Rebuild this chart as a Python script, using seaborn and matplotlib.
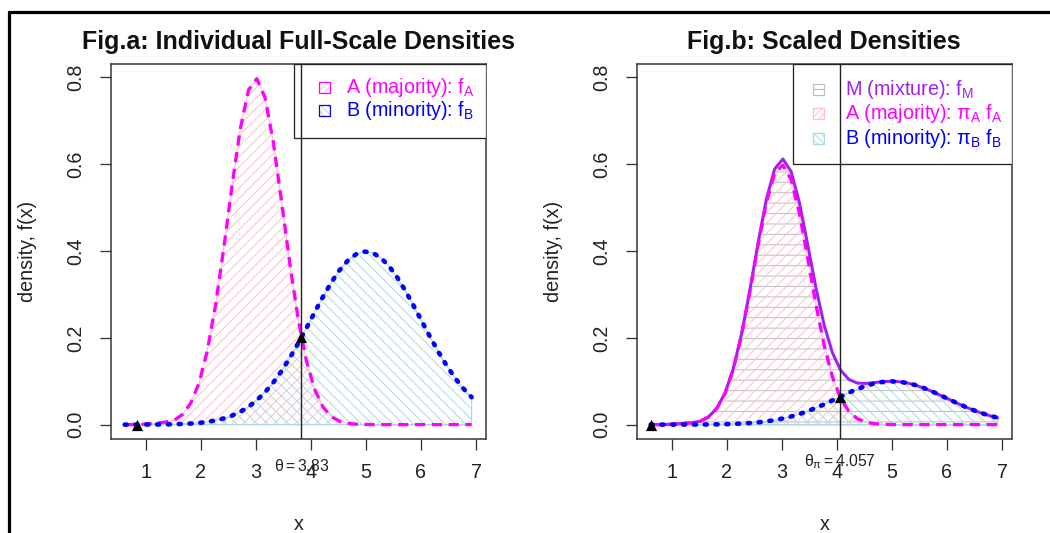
import numpy as np
import pandas as pd
import seaborn as sns
import matplotlib.pyplot as plt
from matplotlib.patches import Rectangle
from matplotlib.lines import Line2D
from matplotlib.transforms import blended_transform_factory

# values
x_grid = [0.62, 0.77, 0.92, 1.07, 1.22, 1.37, 1.52, 1.67, 1.82, 1.97, 2.12,
          2.27, 2.42, 2.57, 2.72, 2.87, 3.02, 3.17, 3.32, 3.47, 3.62, 3.77,
          3.92, 4.07, 4.22, 4.37, 4.52, 4.67, 4.82, 4.97, 5.12, 5.27, 5.42,
          5.57, 5.72, 5.87, 6.02, 6.17, 6.32, 6.47, 6.62, 6.77, 6.92]

# Fig.a: full-scale densities
f_a = [0.0, 0.0, 0.0005, 0.002, 0.004, 0.006, 0.010, 0.0232, 0.0492, 0.0956, 0.1696,
       0.2749, 0.4071, 0.5511, 0.6820, 0.7714, 0.7973, 0.7531, 0.6501, 0.5130, 0.3699, 0.2438,
       0.1468, 0.0808, 0.0407, 0.0187, 0.0079, 0.0030, 0.0011, 0.0003, 0.0001, 0.0, 0.0,
       0.0, 0.0, 0.0, 0.0, 0.0, 0.0, 0.0, 0.0, 0.0, 0.0]
f_b = [0.0, 0.0001, 0.0001, 0.0002, 0.0003, 0.0006, 0.0009, 0.0016, 0.0025, 0.0040, 0.0063,
       0.0096, 0.0143, 0.0208, 0.0296, 0.0413, 0.0562, 0.0748, 0.0973, 0.1238, 0.1539, 0.1873,
       0.2227, 0.2589, 0.2944, 0.3272, 0.3556, 0.3778, 0.3925, 0.3988, 0.3960, 0.3846, 0.3653,
       0.3391, 0.3079, 0.2732, 0.2371, 0.2012, 0.1669, 0.1354, 0.1074, 0.0833, 0.0632]

# Fig.b: scaled densities and the mixture
pa_f_a = [0.0, 0.0, 0.0004, 0.0015, 0.003, 0.0045, 0.0075, 0.0174, 0.0369, 0.0717, 0.1272,
          0.2062, 0.3053, 0.4133, 0.5115, 0.5786, 0.5980, 0.5648, 0.4876, 0.3848, 0.2774, 0.1829,
          0.1101, 0.0606, 0.0305, 0.0140, 0.0059, 0.0023, 0.0008, 0.0002, 0.0001, 0.0, 0.0,
          0.0, 0.0, 0.0, 0.0, 0.0, 0.0, 0.0, 0.0, 0.0, 0.0]
pb_f_b = [0.0, 0.0, 0.0, 0.0, 0.0001, 0.0001, 0.0002, 0.0004, 0.0006, 0.0010, 0.0016,
          0.0024, 0.0036, 0.0052, 0.0074, 0.0103, 0.0141, 0.0187, 0.0243, 0.0310, 0.0385, 0.0468,
          0.0557, 0.0647, 0.0736, 0.0818, 0.0889, 0.0945, 0.0981, 0.0997, 0.0990, 0.0962, 0.0913,
          0.0848, 0.0770, 0.0683, 0.0593, 0.0503, 0.0417, 0.0339, 0.0269, 0.0208, 0.0158]
f_m = [0.0, 0.0, 0.0004, 0.0015, 0.0031, 0.0046, 0.0077, 0.0178, 0.0375, 0.0727, 0.1288,
       0.2086, 0.3089, 0.4185, 0.5189, 0.5889, 0.6121, 0.5835, 0.5119, 0.4158, 0.3159, 0.2297,
       0.1658, 0.1253, 0.1041, 0.0958, 0.0948, 0.0968, 0.0989, 0.0999, 0.0991, 0.0962, 0.0913,
       0.0848, 0.0770, 0.0683, 0.0593, 0.0503, 0.0417, 0.0339, 0.0269, 0.0208, 0.0158]

# cut points (theta) and the marked points
theta_a = 3.83
theta_b = 4.057
pts_a_x = [0.85, 3.83]
pts_a_y = [0.0, 0.201]
pts_b_x = [0.62, 4.057]
pts_b_y = [0.0, 0.064]

x_ticks = [1, 2, 3, 4, 5, 6, 7]
y_ticks = [0.0, 0.2, 0.4, 0.6, 0.8]
y_tick_labels = ["0.0", "0.2", "0.4", "0.6", "0.8"]

DPI = 125
W, H = 1050, 533


def px(v):
    # pixels -> points
    return v * 72.0 / DPI


sns.set_style("white")
plt.rcParams['font.family'] = ['Liberation Sans', 'DejaVu Sans']
plt.rcParams['mathtext.fontset'] = 'custom'
plt.rcParams['mathtext.rm'] = 'Liberation Sans'
plt.rcParams['mathtext.it'] = 'Liberation Sans:italic'
plt.rcParams['hatch.linewidth'] = px(1.0)

BASE = px(19.7)
TITLE = px(25.0)
SMALL = px(15.8)

fig = plt.figure(figsize=(W / DPI, H / DPI), dpi=DPI)
ax_a = fig.add_axes([110.5 / W, 1 - 438.5 / H, 375.5 / W, 374.9 / H])
ax_b = fig.add_axes([636.5 / W, 1 - 438.5 / H, 375.5 / W, 374.9 / H])


def style_axes(ax, title):
    ax.set_xlim(0.363, 7.181)
    ax.set_ylim(-0.032, 0.832)
    ax.set_xticks(x_ticks)
    ax.set_xticklabels([str(t) for t in x_ticks], fontsize=BASE)
    ax.set_yticks(y_ticks)
    ax.set_yticklabels(y_tick_labels, rotation=90, va='center', fontsize=BASE)
    ax.tick_params(axis='both', direction='out', length=px(11), width=px(1.3),
                   color='#333333', labelcolor='#222222', bottom=True, left=True)
    ax.tick_params(axis='x', pad=px(14))
    ax.tick_params(axis='y', pad=px(14))
    for s in ax.spines.values():
        s.set_color('#333333')
        s.set_linewidth(px(1.5))
    ax.set_title(title, fontsize=TITLE, fontweight='bold', pad=px(15), color='#111111')
    ax.set_xlabel("x", fontsize=BASE, color='#222222')
    ax.set_ylabel("density, f(x)", fontsize=BASE, color='#222222')
    ax.xaxis.set_label_coords(0.5, -0.205)
    ax.yaxis.set_label_coords(-0.195, 0.5)
    ax.set_facecolor('white')


def dashed(ax, x, y, color, lw, dashes, cap='butt', z=3):
    sns.lineplot(x=x, y=y, ax=ax, color=color, linewidth=px(lw))
    ln = ax.lines[-1]
    ln.set_dashes(dashes)
    ln.set_dash_capstyle(cap)
    ln.set_zorder(z)


def legend_key(ax, x, y, edge, hatch_col, hatch, mid_line=False):
    w, h = 11 / 375.5, 11 / 374.9
    if hatch:
        ax.add_patch(Rectangle((x - w / 2, y - h / 2), w, h, transform=ax.transAxes,
                               facecolor='none', edgecolor=hatch_col, hatch=hatch,
                               linewidth=px(0.3), zorder=7))
    if mid_line:
        ax.add_line(Line2D([x - w / 2, x + w / 2], [y, y], transform=ax.transAxes,
                           color=hatch_col, linewidth=px(1.2), zorder=7))
    ax.add_patch(Rectangle((x - w / 2, y - h / 2), w, h, transform=ax.transAxes,
                           facecolor='none', edgecolor=edge, linewidth=px(1.2), zorder=7))


# ---------------- Fig.a ----------------
ax = ax_a
ax.fill_between(x_grid, 0, f_a, facecolor='none', edgecolor='pink', hatch='////',
                linewidth=px(1.2), zorder=1)
ax.fill_between(x_grid, 0, f_b, facecolor='none', edgecolor='lightblue', hatch='\\\\\\\\',
                linewidth=px(1.2), zorder=1)
dashed(ax, x_grid, f_a, 'magenta', 3.3, (3.1, 2.0))
dashed(ax, x_grid, f_b, 'blue', 4.6, (0.45, 1.9), cap='round')
style_axes(ax, "Fig.a: Individual Full-Scale Densities")

ax.add_patch(Rectangle((0.4887, 0.8015), 1 - 0.4887, 1 - 0.8015, transform=ax.transAxes,
                       facecolor='white', edgecolor='#222222', linewidth=px(1.3), zorder=6))
legend_key(ax, 0.571, 0.937, 'magenta', 'pink', '//////')
legend_key(ax, 0.571, 0.876, 'blue', 'lightblue', '\\\\\\\\\\\\')
ax.text(0.626, 0.937, r"A (majority): $\mathregular{f_A}$", transform=ax.transAxes,
        color='magenta', fontsize=BASE, va='center', ha='left', zorder=8)
ax.text(0.626, 0.876, r"B (minority): $\mathregular{f_B}$", transform=ax.transAxes,
        color='blue', fontsize=BASE, va='center', ha='left', zorder=8)

ax.axvline(theta_a, color='#222222', linewidth=px(1.4), zorder=9)
sns.scatterplot(x=pts_a_x, y=pts_a_y, ax=ax, marker='^', color='black', s=42,
                edgecolor='black', linewidth=0, zorder=10)
trans = blended_transform_factory(ax.transData, ax.transAxes)
ax.text(theta_a, -0.073, r"$\mathregular{\theta = 3.83}$", transform=trans,
        ha='center', va='center', fontsize=SMALL, color='#222222', clip_on=False)

# ---------------- Fig.b ----------------
ax = ax_b
ax.fill_between(x_grid, 0, f_m, facecolor='none', edgecolor='#BEBEBE', hatch='--',
                linewidth=px(1.2), zorder=1)
ax.fill_between(x_grid, 0, pa_f_a, facecolor='none', edgecolor='pink', hatch='////',
                linewidth=px(1.2), zorder=1)
ax.fill_between(x_grid, 0, pb_f_b, facecolor='none', edgecolor='lightblue', hatch='\\\\\\\\',
                linewidth=px(1.2), zorder=1)
sns.lineplot(x=x_grid, y=f_m, ax=ax, color='#A020F0', linewidth=px(3.0))
ax.lines[-1].set_zorder(2)
dashed(ax, x_grid, pa_f_a, 'magenta', 3.3, (3.1, 2.0))
dashed(ax, x_grid, pb_f_b, 'blue', 4.6, (0.45, 1.9), cap='round', z=4)
style_axes(ax, "Fig.b: Scaled Densities")

ax.add_patch(Rectangle((0.416, 0.731), 1 - 0.416, 1 - 0.731, transform=ax.transAxes,
                       facecolor='white', edgecolor='#222222', linewidth=px(1.3), zorder=6))
legend_key(ax, 0.485, 0.932, '#BEBEBE', '#BEBEBE', None, mid_line=True)
legend_key(ax, 0.485, 0.866, 'pink', 'pink', '//////')
legend_key(ax, 0.485, 0.800, 'lightblue', 'lightblue', '\\\\\\\\\\\\')
ax.text(0.5545, 0.932, r"M (mixture): $\mathregular{f_M}$", transform=ax.transAxes,
        color='#A020F0', fontsize=BASE, va='center', ha='left', zorder=8)
ax.text(0.5545, 0.866, r"A (majority): $\mathregular{\pi_A\ f_A}$", transform=ax.transAxes,
        color='magenta', fontsize=BASE, va='center', ha='left', zorder=8)
ax.text(0.5545, 0.800, r"B (minority): $\mathregular{\pi_B\ f_B}$", transform=ax.transAxes,
        color='blue', fontsize=BASE, va='center', ha='left', zorder=8)

ax.axvline(theta_b, color='#222222', linewidth=px(1.4), zorder=9)
sns.scatterplot(x=pts_b_x, y=pts_b_y, ax=ax, marker='^', color='black', s=42,
                edgecolor='black', linewidth=0, zorder=10)
trans = blended_transform_factory(ax.transData, ax.transAxes)
ax.text(theta_b, -0.063, r"$\mathregular{\theta_\pi = 4.057}$", transform=trans,
        ha='center', va='center', fontsize=SMALL, color='#222222', clip_on=False)

# outer frame (left and top edges of the original device border)
fig.add_artist(Line2D([9 / W, 9 / W], [0, 1 - 12 / H], transform=fig.transFigure,
                      color='black', linewidth=px(3.2)))
fig.add_artist(Line2D([9 / W, 1], [1 - 12 / H, 1 - 12 / H], transform=fig.transFigure,
                      color='black', linewidth=px(3.2)))

fig.savefig("out.png", dpi=DPI, facecolor='white')
